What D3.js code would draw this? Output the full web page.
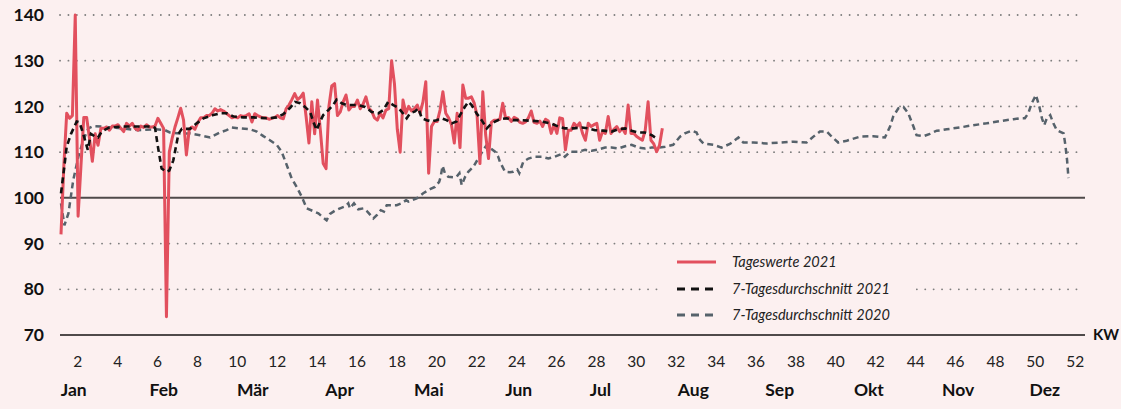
<!DOCTYPE html>
<html><head><meta charset="utf-8">
<script src="https://cdn.jsdelivr.net/npm/d3@7"></script>
<style>
html,body{margin:0;padding:0;background:#fcf0f0;}
svg{display:block;font-family:Lato,"Open Sans",sans-serif;}
</style></head>
<body><svg id="c" width="1121" height="409"></svg>
<script>
// ---- data ----
const tageswerte2021 = [
 92,107,118.5,117.4,118,140,96,107,117.6,117.6,
 113,108,114,111.5,115.2,115.2,115.5,114.8,115.7,115.7,
 116,115.2,114.5,116.3,115.7,116.3,115.2,114.8,115.7,115.4,
 116,115.5,115.5,115.7,117.4,116.3,115.2,74,110,113,
 115.5,117.5,119.6,117,109.4,115,115.5,115,116.5,117.5,
 117.5,118,118,118.5,119.5,119,119.3,119,118.5,118,
 117.5,117.7,117.5,118,117.8,118,118.4,116.6,118.4,118,
 117.7,117.5,117.5,117.2,117.4,117.6,118,117.5,117.3,119.5,
 120.3,121.5,122.8,121.5,122,122.9,117.8,112,121,114,
 121.4,114.8,107.5,106.4,120,124.5,125,118,118.8,121,
 122.5,119.2,120,120,121.4,119.5,120.5,122.1,119.6,119,
 117.5,117,118.5,117.5,119.2,119.5,130,125,115,110,
 121.4,118.5,120,119,119.5,120.3,118.5,121,125.4,105.4,
 115.6,116.7,116.7,119.2,123.2,118.5,117.5,116,112,118.5,
 111,124.7,121.8,121.8,122.1,120.7,118,107.5,123.2,113.8,
 108.6,116.5,117,117,117.2,120.7,117.4,117.6,116.7,117.6,
 117.3,116.5,116.3,116.6,117.5,119,116.5,116.3,116.8,115.6,
 117.2,116.8,114.1,116,114.1,117.5,117.3,110.5,114.8,114.8,
 116.3,115.6,116.4,114.1,112.6,116.3,115.6,116,116.3,112.6,
 114.5,114.1,117.8,114.1,115,115.6,114.5,115.2,114.1,120.3,
 114.1,114.1,113.4,113,112.6,114.8,121,112.6,111.8,110.1,
 111.5,115.2
];
const avg2021Days = [0,1,2,3.5,5.5,6.5,7.8,9.4,10.5,12,13,14.3,16.6,21,27,32,33,34,35.3,37,38,39.4,41.2,42.4,45.3,47.6,50,53.4,55.8,58.1,60.5,64,67.5,72.2,75.7,78,80.4,82.1,83.9,85.6,87.4,88.5,89.7,90.9,92,93.8,95.5,96.7,98.5,100.2,102,104.3,106.7,109,111.3,113.1,114.8,116.6,118.4,120.1,121.3,122.5,124.2,125.4,126.6,128.3,130.1,131.8,133.6,135.3,137.1,138.8,140,141.8,142.9,144.1,145.8,147.6,149.4,150.5,152.3,154,156.4,158.7,161,164,168.7,172.2,174.5,176.8,179.8,182.7,185,187.4,190.3,193.2,195.5,197.9,200.2,202.6,204.9,207.3,209];
const avg2021Values = [101,106,111.2,114,116.7,116.5,114,110.5,114,113.4,113.2,114.5,115.3,115.6,115.6,115.6,115.3,111.2,106.4,105.7,106,108.2,114,115.1,115.1,116.3,117.4,118.1,118.5,118.5,117.8,117.6,117.6,117.4,117.6,118.3,119.7,121,120.7,119.9,118.8,116.7,114.8,116.7,118.1,119.2,120.3,121.5,120.7,120.3,120.3,120.3,119.9,118.8,118.5,119.2,121,120.3,119.7,118.4,117.4,118.5,118.9,119.6,117.4,117,116.7,117,117.4,117,116.3,116.7,118.1,120,121,120.3,118.5,117,115.2,115.9,116.7,117.2,117.4,117,117,116.9,116.7,116.2,115.6,115.2,115.2,115.4,115.2,114.8,114.7,114.5,115,115.2,114.7,114.3,114.3,113.7,113];
const avg2020Days = [0,1.2,2.6,4.3,6.1,7.8,9.6,11.3,14.3,21.3,27.1,33,36.5,38.2,41.8,45.3,48.8,52.3,55.8,58.1,59.9,62.8,66.3,68.7,71,73.3,75.7,77.4,79.2,80.9,82.7,84.5,86.2,88.5,90.3,92,93.2,94.4,96.1,97.9,99.6,100.8,101.4,102.8,104.3,106.1,107.5,109.6,110.8,112.2,113.3,114.3,117.8,119.5,121.1,121.9,123.1,124.8,127.1,129.5,131.2,132.7,133.2,133.9,134.7,135.9,137.6,138.8,139.8,140.6,141.8,142.9,144.7,146.4,148.2,149.4,150.8,152.3,153.4,154,155.8,157.5,158.7,160.1,160.8,162.2,164,166.3,168.7,171,173.3,175.7,176.8,178.6,181.5,183.9,186.2,188.5,190.9,193.2,195.5,197.9,200.2,202.6,204.9,207.3,209.6,212,214.8,217.2,218.9,221.3,223,224.2,225.4,228.9,231.8,234.7,237.7,239.4,242.9,247.6,252.3,257,261.6,264,266.3,268.7,270.4,272.7,275.7,280.4,285,289.1,290.9,292,293.8,295.6,297.3,299.1,300.2,302.6,304.9,307.3,309,310.8,315.4,320.1,324.8,329.5,334.2,336.5,338.2,339.4,340.6,342.1,343.3,344.2,345,345.9,347.1,348.2,349.4,351.8,352.4,353,353.5];
const avg2020Values = [98.8,94,96.6,103.9,109,112.6,115.2,115.7,115.6,115.2,114.8,115,114.8,114.3,114.1,114.1,113.7,113.2,114.3,114.8,115.4,115.2,115,114.5,113.5,112.6,111.6,110.1,107.2,104.3,102.4,100.2,97.7,97.1,96.6,95.7,95.1,96.5,97.2,97.7,98.1,98.8,97.7,98.8,97.5,97.7,97,95.5,96.2,97.3,97,98.4,98.4,98.8,99.5,99.2,99.5,99.9,101,101.9,102.4,103.5,104.6,107,105.4,104.6,104.5,104.6,105.4,102.8,104.6,105.7,106.8,108.6,110.5,111.6,110.8,110.1,109,107.9,105.7,105.6,105.7,106.2,105.4,107.9,108.6,109,109,108.6,109,109.6,109,110.1,110.1,110.5,110.3,110.6,111,111,110.8,111.3,111.6,111,110.8,111,111,111.2,111.6,113.4,114.1,114.7,114.3,112.7,111.9,111.6,111,111.8,113.2,112.1,112.1,111.9,112.1,112.3,112.1,113.4,114.5,114.5,113.4,112.1,112.5,113.4,113.5,113.2,115.6,117.8,119.6,119.9,118.5,115.6,113.7,113.5,114,114.7,114.8,115,115.4,115.9,116.3,116.8,117.2,117.4,117.4,118.5,120.7,122.5,119.9,117.4,115.9,117.4,118.1,116.3,114.8,114.1,111.6,108.3,104.3];
const yTicks = [70,80,90,100,110,120,130,140];
const weekTicks = [2,4,6,8,10,12,14,16,18,20,22,24,26,28,30,32,34,36,38,40,42,44,46,48,50,52];
const monthLabels = ["Jan","Feb","Mär","Apr","Mai","Jun","Jul","Aug","Sep","Okt","Nov","Dez"];
const monthDays = [4.3,35.9,67.1,97.6,128.9,160.4,189.1,221.7,252,283.3,314.6,345];
const legendLabels = ["Tageswerte 2021","7-Tagesdurchschnitt 2021","7-Tagesdurchschnitt 2020"];

// ---- chart ----
const svg = d3.select("#c");
const bg = "#fcf0f0";
svg.append("rect").attr("width",1121).attr("height",409).attr("fill",bg);
const x = d3.scaleLinear().domain([0,365]).range([61, 61+365*2.85]);
const y = d3.scaleLinear().domain([70,140]).range([335,15]);
const weekDay = w => 7*(w-1) - 1.3;

// grid
const g = svg.append("g");
yTicks.forEach(v=>{
  const solid = (v===70||v===100);
  g.append("line").attr("x1",60).attr("x2",solid?1085:1080)
   .attr("y1",y(v)).attr("y2",y(v))
   .attr("stroke",solid?"#4f4a4a":"#7f7f7f")
   .attr("stroke-width",solid?2:1.8)
   .attr("stroke-linecap",solid?"butt":"round")
   .attr("stroke-dasharray",solid?null:"0.1,8.3");
});

// y axis labels
const ya = svg.append("g").attr("transform","translate(44,0)")
  .call(d3.axisLeft(y).tickValues(yTicks).tickSize(0).tickPadding(0));
ya.select(".domain").remove();
ya.selectAll("text").attr("font-size",17.5).attr("font-weight","bold").attr("fill","#111")
  .attr("font-family","Lato,sans-serif");

// week axis
const xa = svg.append("g").attr("transform","translate(0,356)")
  .call(d3.axisBottom(x).tickValues(weekTicks.map(weekDay)).tickSize(0).tickPadding(0)
    .tickFormat((d,i)=>weekTicks[i]));
xa.select(".domain").remove();
xa.selectAll("text").attr("font-size",15.5).attr("fill","#222").attr("font-family","Lato,sans-serif");

// month axis
const ma = svg.append("g").attr("transform","translate(0,384)")
  .call(d3.axisBottom(x).tickValues(monthDays).tickSize(0).tickPadding(0)
    .tickFormat((d,i)=>monthLabels[i]));
ma.select(".domain").remove();
ma.selectAll("text").attr("font-size",17.5).attr("font-weight","bold").attr("fill","#111").attr("font-family","Lato,sans-serif");

svg.append("text").attr("x",1093).attr("y",340).text("KW")
  .attr("font-size",15).attr("font-weight","bold").attr("fill","#111");

// lines
const gray = "#56626b", red = "#e2505e";
const l2020 = d3.line().x((d,i)=>x(avg2020Days[i])).y(d=>y(d));
svg.append("path").datum(avg2020Values).attr("d",l2020).attr("fill","none")
  .attr("stroke",gray).attr("stroke-width",2.5).attr("stroke-dasharray","6,4");
const lRed = d3.line().x((d,i)=>x(i)).y(d=>y(d));
svg.append("path").datum(tageswerte2021).attr("d",lRed).attr("fill","none")
  .attr("stroke",red).attr("stroke-width",3).attr("stroke-linejoin","round");
const l2021 = d3.line().x((d,i)=>x(avg2021Days[i])).y(d=>y(d));
svg.append("path").datum(avg2021Values).attr("d",l2021).attr("fill","none")
  .attr("stroke","#111").attr("stroke-width",2.6).attr("stroke-dasharray","6,4");

// legend
const lg = svg.append("g");
lg.append("rect").attr("x",664).attr("y",250).attr("width",250).attr("height",76).attr("fill",bg);
const styles = [{c:red,w:3,d:null},{c:"#111",w:3,d:"8,6"},{c:gray,w:3,d:"8,6"}];
const ly = [262,289,315];
legendLabels.forEach((t,i)=>{
  lg.append("line").attr("x1",677).attr("x2",716).attr("y1",ly[i]).attr("y2",ly[i])
    .attr("stroke",styles[i].c).attr("stroke-width",styles[i].w).attr("stroke-dasharray",styles[i].d);
  lg.append("text").attr("x",732).attr("y",ly[i]+5).text(t)
    .attr("font-size",14.5).attr("font-style","italic").attr("fill","#222");
});
</script></body></html>
